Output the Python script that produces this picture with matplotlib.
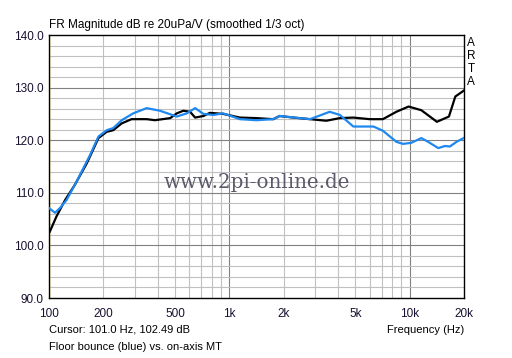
import numpy as np
import matplotlib
matplotlib.use("Agg")
import matplotlib.pyplot as plt
from matplotlib.ticker import FixedLocator, NullFormatter

# on-axis (black)
black_f = [101, 110, 122.7, 139, 162, 188, 209, 227, 253, 287, 348, 387, 470, 511, 556, 606, 646, 718, 780, 925,
           1145, 1414, 1750, 1900, 2270, 2800, 3450, 4100, 4870, 6000, 7100, 8430, 9860, 11600, 14150, 16500, 17900, 19900]
black_db = [102.6, 105.5, 108.6, 111.5, 115.6, 120.4, 121.6, 121.9, 123.2, 124.0, 124.0, 123.8, 124.2, 125.1, 125.6, 125.4, 124.3, 124.6, 125.2, 125.0,
            124.3, 124.2, 124.0, 124.6, 124.3, 124.0, 123.7, 124.2, 124.3, 124.0, 124.0, 125.4, 126.4, 125.7, 123.5, 124.5, 128.3, 129.4]

# floor bounce (blue)
blue_f = [100, 108, 115, 125, 142, 169, 188, 209, 227, 253, 293, 348, 412, 511, 581, 646, 718, 815, 925,
          1145, 1414, 1750, 1900, 2800, 3600, 4100, 4870, 6300, 7100, 8430, 9170, 10200, 11600, 12640, 14400, 15700, 16700, 18200, 19900]
blue_db = [107.1, 106.2, 107.1, 108.6, 112.1, 117.2, 120.7, 121.9, 122.3, 123.8, 125.1, 126.1, 125.6, 124.5, 125.1, 126.1, 125.0, 124.8, 125.1,
           124.0, 123.8, 124.0, 124.6, 124.0, 125.4, 124.8, 122.6, 122.6, 121.8, 119.7, 119.3, 119.5, 120.4, 119.7, 118.5, 118.9, 118.8, 119.7, 120.4]

xtick_vals = [100, 200, 500, 1000, 2000, 5000, 10000, 20000]
xtick_labels = ["100", "200", "500", "1k", "2k", "5k", "10k", "20k"]
ytick_vals = [90, 100, 110, 120, 130, 140]

plt.rcParams['font.family'] = ['Liberation Sans', 'DejaVu Sans']
W, H = 512, 358
fig = plt.figure(figsize=(W/100, H/100), dpi=100)
ax = fig.add_axes([49/W, 1 - 298/H, (464-49)/W, (298-35)/H])
ax.set_xscale('log')
ax.set_xlim(100, 20000)
ax.set_ylim(90, 140)

# grid
minor_x = [f for dec in (100, 1000, 10000) for f in [dec*k for k in range(2, 10)] if f < 20000]
for f in minor_x:
    ax.axvline(f, color='#c0c0c0', lw=0.8, zorder=0)
for f in [1000, 10000]:
    ax.axvline(f, color='#808080', lw=0.8, zorder=0)
for y in range(92, 140, 2):
    c = '#808080' if y % 10 == 0 else '#c0c0c0'
    ax.axhline(y, color=c, lw=0.8, zorder=0)

ax.axvline(100.6, color='#e0c000', lw=1.0, zorder=1)

ax.plot(black_f, black_db, color='black', lw=1.6, zorder=3)
ax.plot(blue_f, blue_db, color='#1e88f0', lw=1.6, zorder=4)

ax.xaxis.set_major_locator(FixedLocator(xtick_vals))
ax.xaxis.set_minor_formatter(NullFormatter())
ax.set_xticks(xtick_vals)
ax.set_xticklabels(xtick_labels)
ax.set_yticks(ytick_vals)
ax.set_yticklabels([f"{v:.1f}" for v in ytick_vals])
ax.tick_params(axis='both', which='both', length=0, labelsize=8.5, pad=4, labelcolor='#1a1030')
ax.tick_params(axis='x', pad=7)
for s in ax.spines.values():
    s.set_color('black'); s.set_linewidth(1.0)

ax.text(0.5, 0.44, "www.2pi-online.de", transform=ax.transAxes, ha='center', va='center',
        fontsize=14.3, family='DejaVu Serif', color='#5a5a6a', zorder=5)

fig.text(49/W, 1 - 25/H, "FR Magnitude dB re 20uPa/V (smoothed 1/3 oct)", fontsize=8.5, va='center', ha='left')
fig.text(49/W, 1 - 330/H, "Cursor: 101.0 Hz, 102.49 dB", fontsize=8, va='center', ha='left')
fig.text(464/W, 1 - 330/H, "Frequency (Hz)", fontsize=8, va='center', ha='right')
fig.text(49/W, 1 - 347/H, "Floor bounce (blue) vs. on-axis MT", fontsize=8, va='center', ha='left')
for i, ch in enumerate("ARTA"):
    fig.text(471/W, 1 - (43 + i*13)/H, ch, fontsize=8.5, va='center', ha='center')

fig.savefig("out.png", dpi=100)
